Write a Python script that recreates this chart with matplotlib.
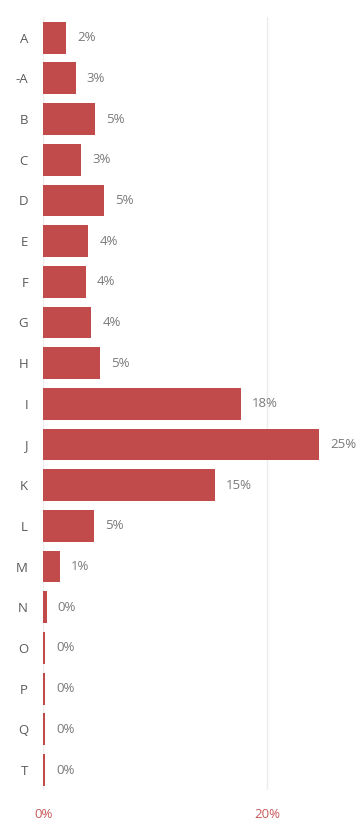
import matplotlib
matplotlib.use("Agg")
import matplotlib.pyplot as plt

# Share of total per category (percent)
categories = ["A", "-A", "B", "C", "D", "E", "F", "G", "H", "I",
              "J", "K", "L", "M", "N", "O", "P", "Q", "T"]
shares = [2.0, 2.9, 4.6, 3.4, 5.4, 4.0, 3.8, 4.3, 5.1, 17.6,
          24.6, 15.3, 4.55, 1.45, 0.3, 0.15, 0.15, 0.15, 0.15]
x_ticks = [0, 20]

bar_color = "#c14b4b"
text_color = "#7a7a7a"

plt.rcParams["font.family"] = ["Open Sans", "DejaVu Sans"]

fig = plt.figure(figsize=(3.58, 8.25), dpi=100)
ax = fig.add_axes([0.121, 0.042, 0.845, 0.937])

y = list(range(len(categories)))
ax.barh(y, shares, height=0.78, color=bar_color, linewidth=0, zorder=3)

for yi, v in zip(y, shares):
    ax.annotate(f"{round(v):.0f}%", xy=(v, yi), xytext=(8, 0),
                textcoords="offset points", ha="left", va="center",
                fontsize=9.5, color=text_color)

ax.set_ylim(len(categories) - 0.5, -0.5)
ax.set_xlim(0, 27)
ax.set_yticks(y)
ax.set_yticklabels(categories, fontsize=9.5, color="#5a5a5a")
ax.set_xticks(x_ticks)
ax.set_xticklabels([f"{t}%" for t in x_ticks], fontsize=9.5, color="#c85a58")
ax.tick_params(axis="both", length=0)
ax.tick_params(axis="y", pad=11)
ax.tick_params(axis="x", pad=13)

ax.grid(axis="x", color="#ececec", linewidth=1, zorder=0)
for s in ax.spines.values():
    s.set_visible(False)

fig.savefig("out.png", dpi=100)
